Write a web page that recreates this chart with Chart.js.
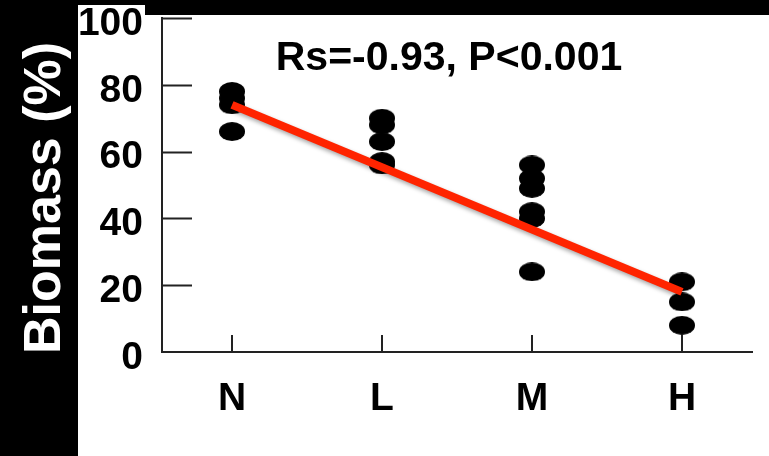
<!DOCTYPE html>
<html>
<head>
<meta charset="utf-8">
<script src="https://cdn.jsdelivr.net/npm/chart.js@4.4.1/dist/chart.umd.min.js"></script>
<style>
  html, body { margin: 0; padding: 0; background: #000; }
  canvas { display: block; }
</style>
</head>
<body>
<canvas id="chart" width="769" height="456"></canvas>
<script>
// Disturbance classes on the x axis
const categories = ['N', 'L', 'M', 'H'];

// Biomass (%) of each sample
const biomassN = [78, 76, 74, 66];
const biomassL = [70, 68, 63, 57, 56];
const biomassM = [56, 52, 49, 42, 40, 24];
const biomassH = [21, 15, 8];

// Regression line, value at N and at H
const fitLine = [74, 18];
const yTicks = [0, 20, 40, 60, 80, 100];
const statsText = 'Rs=-0.93, P<0.001';

const FONT = "'Liberation Sans', Arial, sans-serif";

// Flat round marker like the ones in the figure
function makeMarker() {
    const c = document.createElement('canvas');
    c.width = 26;
    c.height = 19;
    const g = c.getContext('2d');
    g.fillStyle = '#000';
    g.beginPath();
    g.ellipse(13, 9.5, 13, 9.5, 0, 0, Math.PI * 2);
    g.fill();
    return c;
}

const groups = [biomassN, biomassL, biomassM, biomassH];
const scatterPoints = [];
groups.forEach((vals, i) => {
    vals.forEach((v) => scatterPoints.push({ x: i, y: v }));
});

// Black frame, rotated axis title and the stats text
const framePlugin = {
    id: 'frame',
    beforeDraw(chart) {
        const ctx = chart.ctx;
        ctx.save();
        ctx.fillStyle = '#000';
        ctx.fillRect(0, 0, chart.width, chart.height);
        ctx.fillStyle = '#fff';
        ctx.fillRect(78, 15, chart.width - 78, chart.height - 15);
        ctx.fillRect(78, 5, 67, 10);

        ctx.translate(60, 198);
        ctx.rotate(-Math.PI / 2);
        ctx.fillStyle = '#fff';
        ctx.font = 'bold 52px ' + FONT;
        ctx.textAlign = 'center';
        ctx.textBaseline = 'alphabetic';
        ctx.fillText('Biomass (%)', 0, 0);
        ctx.restore();

        ctx.save();
        ctx.fillStyle = '#000';
        ctx.font = 'bold 41px ' + FONT;
        ctx.textAlign = 'center';
        ctx.textBaseline = 'alphabetic';
        ctx.fillText(statsText, 449, 70);
        ctx.restore();
    },
    // inward tick marks
    beforeDatasetsDraw(chart) {
        const ctx = chart.ctx;
        const xs = chart.scales.x;
        const ys = chart.scales.y;
        const area = chart.chartArea;
        ctx.save();
        ctx.strokeStyle = '#222';
        ctx.lineWidth = 2;
        ctx.beginPath();
        yTicks.forEach((v) => {
            if (v === 0) return;
            const py = Math.round(ys.getPixelForValue(v)) + 0.5;
            ctx.moveTo(area.left, py);
            ctx.lineTo(area.left + 30, py);
        });
        categories.forEach((c, i) => {
            const px = Math.round(xs.getPixelForValue(i));
            ctx.moveTo(px, area.bottom);
            ctx.lineTo(px, area.bottom - 17);
        });
        ctx.stroke();
        ctx.restore();
    }
};

// soft grey shadow under the red line
const shadowPlugin = {
    id: 'lineShadow',
    beforeDatasetDraw(chart, args) {
        if (args.meta.type !== 'line') return;
        const ctx = chart.ctx;
        ctx.save();
        ctx.shadowColor = 'rgba(0, 0, 0, 0.35)';
        ctx.shadowBlur = 4;
        ctx.shadowOffsetX = 2;
        ctx.shadowOffsetY = 3;
    },
    afterDatasetDraw(chart, args) {
        if (args.meta.type !== 'line') return;
        chart.ctx.restore();
    }
};

const tickFont = { family: FONT, size: 39, weight: 'bold' };

new Chart(document.getElementById('chart'), {
    data: {
        datasets: [
            {
                type: 'line',
                data: [{ x: 0, y: fitLine[0] }, { x: categories.length - 1, y: fitLine[1] }],
                borderColor: '#ff2400',
                borderWidth: 8,
                pointRadius: 0,
                borderCapStyle: 'butt',
                order: 0
            },
            {
                type: 'scatter',
                data: scatterPoints,
                pointStyle: makeMarker(),
                backgroundColor: '#000',
                order: 1
            }
        ]
    },
    options: {
        responsive: false,
        animation: false,
        layout: { padding: { top: 18, right: 17, left: 0, bottom: 0 } },
        plugins: {
            legend: { display: false },
            tooltip: { enabled: false }
        },
        scales: {
            x: {
                type: 'linear',
                min: -0.467,
                max: 3.467,
                afterBuildTicks: (scale) => {
                    scale.ticks = categories.map((c, i) => ({ value: i }));
                },
                afterFit: (scale) => {
                    scale.height = 104;
                    scale.paddingLeft = 0;
                    scale.paddingRight = 0;
                },
                grid: { display: false, drawTicks: false },
                border: { display: true, color: '#222', width: 2 },
                ticks: {
                    color: '#000',
                    font: tickFont,
                    padding: 24,
                    maxRotation: 0,
                    callback: (v) => categories[v]
                }
            },
            y: {
                min: 0,
                max: 100,
                afterBuildTicks: (scale) => {
                    scale.ticks = yTicks.map((v) => ({ value: v }));
                },
                afterFit: (scale) => {
                    scale.width = 162;
                    scale.paddingTop = 0;
                    scale.paddingBottom = 0;
                },
                grid: { display: false, drawTicks: false },
                border: { display: true, color: '#222', width: 2 },
                ticks: {
                    color: '#000',
                    font: tickFont,
                    padding: 19,
                    labelOffset: 6
                }
            }
        }
    },
    plugins: [framePlugin, shadowPlugin]
});
</script>
</body>
</html>
